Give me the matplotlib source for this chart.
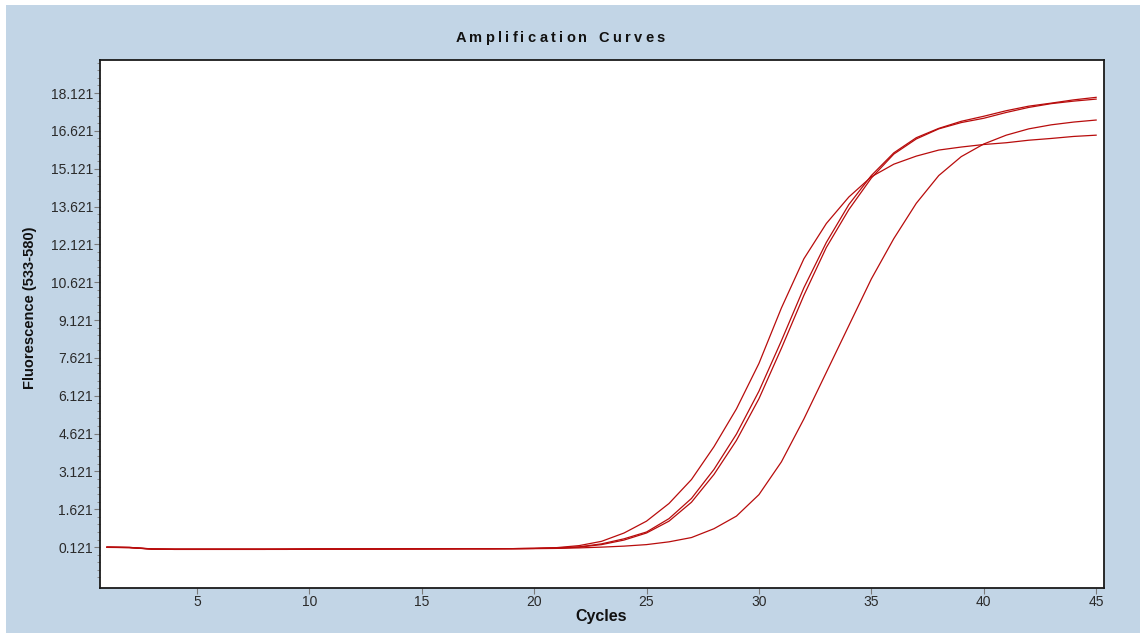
import numpy as np
import matplotlib
matplotlib.use('Agg')
import matplotlib.pyplot as plt
from matplotlib.patches import Rectangle
from matplotlib.ticker import FixedLocator

# Cycle numbers
cycles = list(range(1, 46))

# Fluorescence (533-580) for the four samples
curve_a = [0.12, 0.11, 0.05, 0.04, 0.04, 0.04, 0.04, 0.04, 0.04, 0.05,
           0.05, 0.05, 0.05, 0.05, 0.06, 0.06, 0.06, 0.06, 0.06, 0.07,
           0.10, 0.18, 0.35, 0.68, 1.15, 1.85, 2.80, 4.10, 5.60, 7.40,
           9.60, 11.55, 12.95, 14.00, 14.80, 15.30, 15.62, 15.86, 15.98, 16.08,
           16.15, 16.25, 16.32, 16.40, 16.45]
curve_b = [0.11, 0.10, 0.04, 0.03, 0.03, 0.03, 0.03, 0.03, 0.04, 0.04,
           0.04, 0.04, 0.05, 0.05, 0.05, 0.05, 0.06, 0.06, 0.06, 0.07,
           0.09, 0.13, 0.25, 0.45, 0.72, 1.25, 2.05, 3.20, 4.60, 6.30,
           8.30, 10.40, 12.20, 13.70, 14.85, 15.75, 16.35, 16.72, 17.00, 17.20,
           17.42, 17.60, 17.72, 17.85, 17.95]
curve_c = [0.12, 0.10, 0.05, 0.04, 0.04, 0.04, 0.04, 0.04, 0.04, 0.04,
           0.05, 0.05, 0.05, 0.05, 0.05, 0.06, 0.06, 0.06, 0.06, 0.07,
           0.08, 0.12, 0.22, 0.40, 0.68, 1.15, 1.90, 3.00, 4.35, 6.00,
           8.00, 10.10, 12.00, 13.50, 14.75, 15.70, 16.30, 16.70, 16.95, 17.12,
           17.35, 17.55, 17.70, 17.80, 17.88]
curve_d = [0.12, 0.11, 0.04, 0.03, 0.03, 0.03, 0.03, 0.03, 0.03, 0.04,
           0.04, 0.04, 0.04, 0.05, 0.05, 0.05, 0.05, 0.05, 0.06, 0.06,
           0.07, 0.09, 0.12, 0.16, 0.22, 0.33, 0.50, 0.85, 1.35, 2.20,
           3.50, 5.20, 7.05, 8.90, 10.75, 12.35, 13.75, 14.85, 15.60, 16.10,
           16.45, 16.70, 16.86, 16.97, 17.05]

y_ticks = [0.121, 1.621, 3.121, 4.621, 6.121, 7.621, 9.121, 10.621,
           12.121, 13.621, 15.121, 16.621, 18.121]
x_ticks = [5, 10, 15, 20, 25, 30, 35, 40, 45]

bg = '#c2d5e6'
line_col = '#b80c0c'
label_font = ['Liberation Sans', 'DejaVu Sans']
narrow_font = ['Liberation Sans Narrow', 'Liberation Sans', 'DejaVu Sans']

fig = plt.figure(figsize=(11.4, 6.33), dpi=100)
W, H = 1140, 633
# light blue panel behind the chart (thin white margin top/left)
fig.patches.append(Rectangle((6 / W, 0), 1 - 6 / W, 1 - 5 / H,
                             transform=fig.transFigure, facecolor=bg,
                             edgecolor='none', zorder=-10))

ax = fig.add_axes([100 / W, 45 / H, 1004 / W, 528 / H])
ax.set_facecolor('white')

for curve in (curve_a, curve_b, curve_c, curve_d):
    ax.plot(cycles, curve, color=line_col, lw=0.9, solid_joinstyle='round')

ax.set_xlim(0.69, 45.35)
ax.set_ylim(-1.5, 19.43)

ax.yaxis.set_major_locator(FixedLocator(y_ticks))
ax.set_yticklabels([f'{v:.3f}' for v in y_ticks])
ax.yaxis.set_minor_locator(FixedLocator(
    [v + k * 0.3 for v in [-1.379] + y_ticks for k in range(1, 5)]))
ax.xaxis.set_major_locator(FixedLocator(x_ticks))
ax.set_xticklabels([str(v) for v in x_ticks])

for s in ax.spines.values():
    s.set_color('#1a1a1a')
    s.set_linewidth(1.3)

ax.tick_params(axis='both', which='major', length=4, width=0.8,
               color='#7a7a7a', labelsize=10, labelcolor='#2a2a2a', pad=1)
ax.tick_params(axis='y', which='minor', length=2.5, width=0.7, color='#8a8a8a')
for lbl in ax.get_xticklabels() + ax.get_yticklabels():
    lbl.set_family(label_font)

# axis labels
fig.text(601 / W, 1 - 617 / H, 'Cycles', ha='center', va='center',
         fontsize=11.5, fontweight='bold', family=narrow_font, color='#111111')
fig.text(30 / W, 1 - 308 / H, 'Fluorescence (533-580)', ha='center',
         va='center', rotation=90, fontsize=10.5, fontweight='bold',
         family=narrow_font, color='#111111')

# letter-spaced title
title = 'Amplification Curves'
renderer = fig.canvas.get_renderer()
parts = []
x = 0.0
for ch in title:
    if ch == ' ':
        x += 8
        continue
    t = fig.text(0, 1 - 38 / H, ch, ha='left', va='center', fontsize=10.5,
                 fontweight='bold', family=label_font, color='#111111')
    w = t.get_window_extent(renderer).width
    parts.append((t, x))
    x += w + 3.3
total = x - 3.3
start = 560 - total / 2
for t, off in parts:
    t.set_x((start + off) / W)

fig.savefig('out.png', dpi=100, facecolor='white')
